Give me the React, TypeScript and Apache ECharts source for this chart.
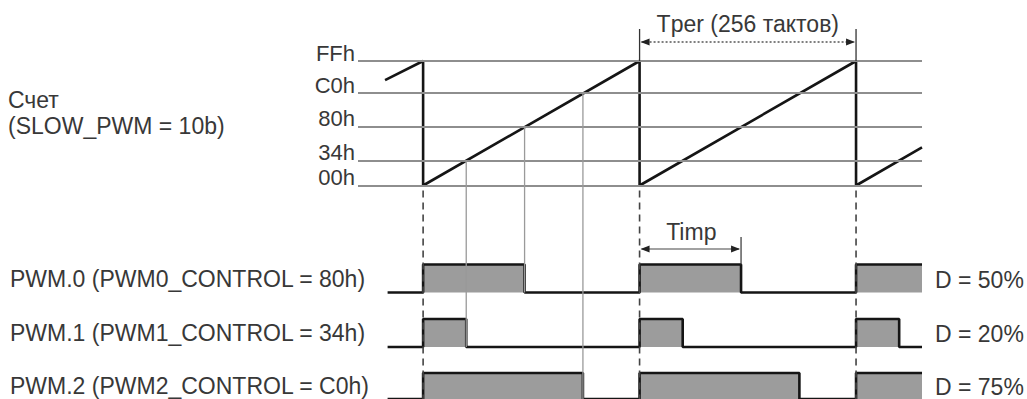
import React, { useEffect, useRef } from "react";
import * as echarts from "echarts";

// ---- data ----
const PERIOD_STARTS = [0, 256, 512];
const X_MIN = -77;
const X_MAX = 590;
const LEVEL_LABELS = ["00h", "34h", "80h", "C0h", "FFh"];
const LEVEL_VALUES = [0, 51, 120, 189, 255];
const COUNTER_POINTS: [number, number][] = [
  [-45, 216], [0, 255], [0, 0], [256, 255], [256, 0], [512, 255], [512, 0], [590, 78],
];
const PWM_NAMES = [
  "PWM.0 (PWM0_CONTROL = 80h)",
  "PWM.1 (PWM1_CONTROL = 34h)",
  "PWM.2 (PWM2_CONTROL = C0h)",
];
const PWM_COMPARE = [120, 51, 189];
const PWM_DUTY = ["D = 50%", "D = 20%", "D = 75%"];
const PWM_START = -42;
const COUNTER_TITLE = ["Счет", "(SLOW_PWM = 10b)"];
const TPER_TEXT = "Tper (256 тактов)";
const TIMP_TEXT = "Timp";

const FONT = "'Liberation Sans', Arial, sans-serif";
const TEXT_COLOR = "#383838";

function pulseData(cmp: number): [number, number][] {
  const d: [number, number][] = [[PWM_START, 0]];
  for (const s of PERIOD_STARTS) {
    d.push([s, 0], [s, 1]);
    const f = s + cmp;
    if (f < X_MAX) d.push([f, 1], [f, 0]);
    else d.push([X_MAX, 1]);
  }
  const last = d[d.length - 1];
  if (last[0] < X_MAX) d.push([X_MAX, last[1]]);
  return d;
}

export default function App() {
  const ref = useRef<HTMLDivElement>(null);
  useEffect(() => {
    if (!ref.current) return;
    const chart = echarts.init(ref.current, undefined, { renderer: "svg" });
    const left = 358;
    const width = 564;
    const grids = [
      { left, width, top: 61, height: 124.5 },
      { left, width, top: 264.5, height: 28 },
      { left, width, top: 319, height: 28 },
      { left, width, top: 373, height: 28 },
    ];
    const xAxes = grids.map((_, i) => ({
      type: "value", gridIndex: i, min: X_MIN, max: X_MAX, show: false,
    }));
    const yAxes = grids.map((_, i) => ({
      type: "value", gridIndex: i, min: 0, max: i === 0 ? 255 : 1, show: false,
    }));
    const series: any[] = [
      {
        type: "line", xAxisIndex: 0, yAxisIndex: 0, data: [], z: 1, silent: true,
        markLine: {
          silent: true, symbol: "none", animation: false,
          lineStyle: { color: "#8e8e8e", width: 1.8, type: "solid" },
          label: { show: false },
          data: LEVEL_VALUES.map((v) => ({ yAxis: v })),
        },
      },
      {
        type: "line", xAxisIndex: 0, yAxisIndex: 0, data: COUNTER_POINTS, z: 3,
        showSymbol: false, clip: false, silent: true,
        lineStyle: { color: "#151515", width: 2.6 },
      },
      ...PWM_COMPARE.map((c, i) => ({
        type: "line", xAxisIndex: i + 1, yAxisIndex: i + 1, data: pulseData(c), z: 3,
        showSymbol: false, clip: false, silent: true,
        lineStyle: { color: "#151515", width: 2.6 },
        areaStyle: { color: "#9c9c9c", opacity: 1 },
      })),
    ];
    chart.setOption({
      animation: false,
      backgroundColor: "#ffffff",
      grid: grids,
      xAxis: xAxes,
      yAxis: yAxes,
      series,
    });

    const px = (gi: number, t: number, v: number) =>
      chart.convertToPixel({ gridIndex: gi } as any, [t, v]) as number[];

    const els: any[] = [];
    const text = (t: string, x: number, y: number, align = "left", size = 23) =>
      els.push({
        type: "text", z: 20, silent: true,
        style: {
          text: t, x, y, fill: TEXT_COLOR, font: `${size}px ${FONT}`,
          textAlign: align, textVerticalAlign: "middle", align, verticalAlign: "middle",
        },
      });
    const line = (x1: number, y1: number, x2: number, y2: number, stroke: string, w: number, dash?: number[]) =>
      els.push({
        type: "line", z: 15, silent: true,
        shape: { x1, y1, x2, y2 },
        style: { stroke, lineWidth: w, lineDash: dash },
      });
    const arrowHead = (tipX: number, y: number, dir: number) =>
      els.push({
        type: "polygon", z: 16, silent: true,
        shape: { points: [[tipX, y], [tipX - dir * 9, y - 3.5], [tipX - dir * 9, y + 3.5]] },
        style: { fill: "#222" },
      });

    // level labels (baseline sitting on the grid line)
    LEVEL_VALUES.forEach((v, i) => {
      const p = px(0, X_MIN, v);
      text(LEVEL_LABELS[i], p[0] - 3, p[1] - 8, "right", 22);
    });

    // dashed period markers
    for (const s of PERIOD_STARTS) {
      const top = px(0, s, 0);
      const bot = px(3, s, 0);
      line(top[0], top[1] + 5, bot[0], bot[1], "#444", 1.6, [7, 5]);
    }
    // thin threshold crossing lines (first period)
    PWM_COMPARE.forEach((c, i) => {
      const a = px(0, c, c);
      const b = px(i + 1, c, 0);
      line(a[0], a[1], b[0], b[1], "#9a9a9a", 1.3);
    });
    // Tper bracket
    const p1 = px(0, PERIOD_STARTS[1], 255);
    const p2 = px(0, PERIOD_STARTS[2], 255);
    line(p1[0], 29, p1[0], p1[1], "#333", 1.3);
    line(p2[0], 29, p2[0], p2[1], "#333", 1.3);
    line(p1[0] + 2, 42, p2[0] - 2, 42, "#555", 1.3, [2, 2]);
    arrowHead(p1[0] + 1, 42, -1);
    arrowHead(p2[0] - 1, 42, 1);
    text(TPER_TEXT, (p1[0] + p2[0]) / 2, 24, "center");
    // Timp bracket
    const q1 = px(1, PERIOD_STARTS[1], 1);
    const q2 = px(1, PERIOD_STARTS[1] + PWM_COMPARE[0], 1);
    line(q2[0], 237, q2[0], q2[1], "#333", 1.2);
    line(q1[0] + 2, 249, q2[0] - 2, 249, "#444", 1.2);
    arrowHead(q1[0] + 1, 249, -1);
    arrowHead(q2[0] - 1, 249, 1);
    text(TIMP_TEXT, (q1[0] + q2[0]) / 2 + 1, 232, "center");

    // left titles
    text(COUNTER_TITLE[0], 8, 100, "left");
    text(COUNTER_TITLE[1], 8, 126, "left");
    PWM_NAMES.forEach((n, i) => {
      const hi = px(i + 1, 0, 1);
      const lo = px(i + 1, 0, 0);
      const cy = (hi[1] + lo[1]) / 2;
      text(n, 10, cy, "left");
      const r = px(i + 1, X_MAX, 0);
      text(PWM_DUTY[i], r[0] + 13, cy + 1, "left");
    });

    chart.setOption({ graphic: { elements: els } });
    return () => chart.dispose();
  }, []);
  return (
    <div
      ref={ref}
      style={{ position: "absolute", left: 0, top: 0, width: 1027, height: 399, background: "#fff" }}
    />
  );
}
